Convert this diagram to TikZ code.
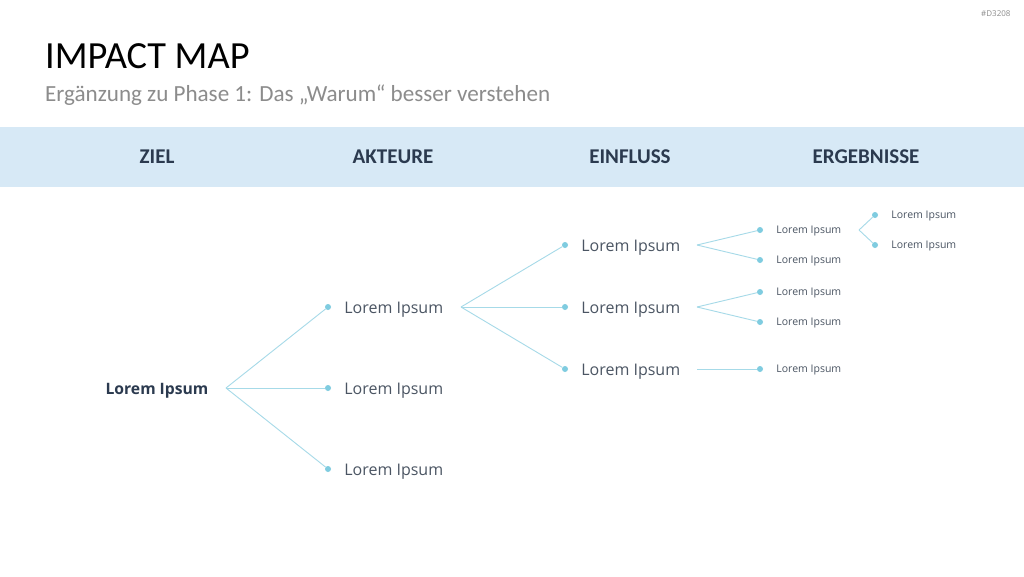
\documentclass[tikz,border=0pt]{standalone}
\usepackage{fontspec}
\setmainfont{Open Sans}
\newfontfamily\calibri{Carlito}
\usetikzlibrary{positioning}

\definecolor{bandblue}{HTML}{D7E9F6}
\definecolor{lineblue}{HTML}{A6DAE8}
\definecolor{dotblue}{HTML}{7FCCE0}
\definecolor{navy}{HTML}{2B3A4F}
\definecolor{txtgray}{HTML}{4B5563}
\definecolor{subgray}{HTML}{8C8C8C}

\tikzset{
  dot/.style={circle,fill=dotblue,inner sep=0pt,minimum size=6pt},
  link/.style={draw=lineblue,line width=0.9pt},
  head/.style={font=\calibri\bfseries\fontsize{21}{25}\selectfont,text=navy},
  lbl/.style={inner sep=0pt,yshift=-2.5pt,text=txtgray,font=\fontsize{16}{19}\selectfont},
  small/.style={inner sep=0pt,yshift=-1.2pt,text=txtgray,font=\fontsize{10.5}{13}\selectfont}
}

\begin{document}
\begin{tikzpicture}[x=1pt,y=-1pt]
    \useasboundingbox (0,0) rectangle (1024,576);
    \fill[white] (0,0) rectangle (1024,576);

    % title block
    \node[anchor=east,font=\fontsize{8}{10}\selectfont,text=subgray] (code) at (1014,14) {\#D3208};
    \node[anchor=base west,inner sep=0pt,font=\calibri\fontsize{38.4}{44}\selectfont] (title) at (45,68) {IMPACT MAP};
    \node[anchor=base west,inner sep=0pt,font=\calibri\fontsize{23.1}{27}\selectfont,text=subgray] (subtitle) at (45,101) {Ergänzung zu Phase 1: Das „Warum“ besser verstehen};

    % header band
    \fill[bandblue] (0,127) rectangle (1024,187);
    \node[head] (hziel) at (157,157) {ZIEL};
    \node[head] (hakteure) at (393,157) {AKTEURE};
    \node[head] (heinfluss) at (630,157) {EINFLUSS};
    \node[head] (hergebnisse) at (866,157) {ERGEBNISSE};

    % ziel -> akteure
    \node[inner sep=0pt,yshift=-2.5pt,text=navy,font=\bfseries\fontsize{15.7}{19}\selectfont] (ziel) at (157,388) {Lorem Ipsum};
    \coordinate (f0) at (226,388);
    \foreach \n/\y in {1/307,2/388,3/469} {
        \node[dot] (a\n) at (328,\y) {};
        \node[lbl,right=13pt of a\n] (ta\n) {Lorem Ipsum};
        \draw[link] (f0) -- (a\n);
    }

    % akteure -> einfluss
    \coordinate (f1) at (461,307);
    \foreach \n/\y in {1/245,2/307,3/369} {
        \node[dot] (e\n) at (565,\y) {};
        \node[lbl,right=13pt of e\n] (te\n) {Lorem Ipsum};
        \draw[link] (f1) -- (e\n);
    }

    % einfluss -> ergebnisse
    \coordinate (g1) at (697,245);
    \coordinate (g2) at (697,307);
    \coordinate (g3) at (697,369);
    \foreach \n/\y/\g in {1/230/g1,2/260/g1,3/292/g2,4/322/g2,5/369/g3} {
        \node[dot] (r\n) at (760,\y) {};
        \node[small,right=13pt of r\n] (tr\n) {Lorem Ipsum};
        \draw[link] (\g) -- (r\n);
    }

    % ergebnisse, second level
    \coordinate (g4) at (859,230);
    \foreach \n/\y in {1/215,2/245} {
        \node[dot] (s\n) at (875,\y) {};
        \node[small,right=13pt of s\n] (ts\n) {Lorem Ipsum};
        \draw[link] (g4) -- (s\n);
    }
\end{tikzpicture}
\end{document}
